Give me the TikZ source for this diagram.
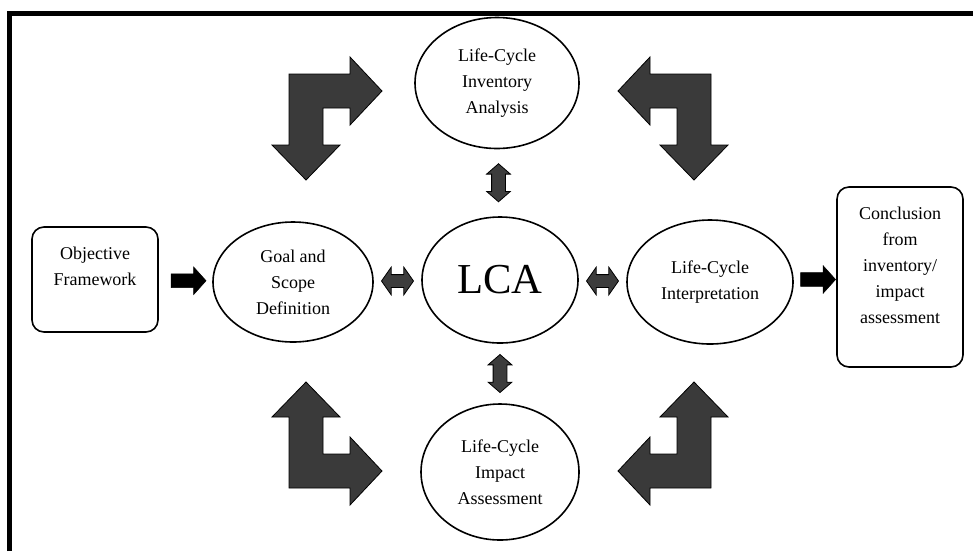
\documentclass[tikz,border=0pt]{standalone}
\usepackage{fontspec}
\setmainfont{Liberation Serif}
\usetikzlibrary{shapes.geometric,shapes.arrows,calc}
\definecolor{bgray}{HTML}{3A3A3A}
\definecolor{dgray}{HTML}{3C3C3C}
\begin{document}
\begin{tikzpicture}[x=0.75pt,y=-0.75pt,
  ell/.style={ellipse,draw,line width=1.2pt,inner sep=0pt,align=center,font=\fontsize{13.5}{19.5}\selectfont},
  box/.style={rectangle,rounded corners=9pt,draw,line width=1.2pt,inner sep=0pt},
  txt/.style={align=center,font=\fontsize{13.5}{19.5}\selectfont,inner sep=0pt},
  fat/.style={single arrow,fill=black,draw=black,line width=0.4pt,minimum height=26.25pt,minimum width=20.25pt,inner sep=4.875pt,single arrow head extend=5.25pt,single arrow tip angle=96,single arrow head indent=0pt},
  dblh/.style={double arrow,fill=dgray,draw=black,line width=0.6pt,minimum height=24pt,minimum width=20.25pt,inner sep=4.5pt,double arrow head extend=5.625pt,double arrow tip angle=110},
  dblv/.style={double arrow,rotate=90,fill=dgray,draw=black,line width=0.6pt,minimum height=28.5pt,minimum width=17.25pt,inner sep=4.875pt,double arrow head extend=3.75pt,double arrow tip angle=98},
  bent/.style={fill=bgray,draw=black,line width=0.6pt,line join=miter}
]
\useasboundingbox (0,0) rectangle (973,551);
% frame
\draw[line width=3.4pt,line join=miter] (9.5,551) -- (9.5,13.5) -- (973,13.5);

% main nodes
\node[box,minimum width=94.5pt,minimum height=78.75pt] (obj) at (95,279.5) {};
\node[txt] (objt) at (95,266) {Objective\\Framework};
\node[box,minimum width=94.5pt,minimum height=135pt] (concl) at (900,277) {};
\node[txt] (conclt) at (900,265) {Conclusion\\from\\inventory/\\impact\\assessment};
\node[ell,minimum width=120pt,minimum height=90pt] (goal) at (293,282) {Goal and\\Scope\\Definition};
\node[ell,minimum width=117pt,minimum height=94.5pt,font=\fontsize{32}{36}\selectfont] (lca) at (500,280) {LCA};
\node[ell,minimum width=124.5pt,minimum height=93pt] (interp) at (710,282) {Life-Cycle\\Interpretation};
\node[ell,minimum width=123pt,minimum height=98.25pt] (inv) at (497,83) {Life-Cycle\\Inventory\\Analysis};
\node[ell,minimum width=118.5pt,minimum height=102pt] (imp) at (500,472) {Life-Cycle\\Impact\\Assessment};

% straight arrows
\node[fat] (a1) at ($(obj.east)!0.5!(goal.west)$) {};
\node[fat] (a2) at ($(interp.east)!0.5!(concl.west)$) {};
\node[dblh] (d1) at ($(goal.east)!0.5!(lca.west)$) {};
\node[dblh] (d2) at ($(lca.east)!0.5!(interp.west)$) {};
\node[dblv] (d3) at ($(inv.south)!0.5!(lca.north)$) {};
\node[dblv] (d4) at ($(lca.south)!0.5!(imp.north)$) {};

% bent arrows
\foreach \sx/\sy in {1/1,-1/1,1/-1,-1/-1}{
\begin{scope}[shift={(500,281)},xscale=\sx,yscale=\sy]
\draw[bent] (-211,-207) -- (-150,-207) -- (-150,-224) -- (-118,-190) -- (-150,-156) -- (-150,-173) -- (-177,-173) -- (-177,-136) -- (-160,-136) -- (-194,-101) -- (-228,-136) -- (-211,-136) -- cycle;
\end{scope}
}
\end{tikzpicture}
\end{document}
